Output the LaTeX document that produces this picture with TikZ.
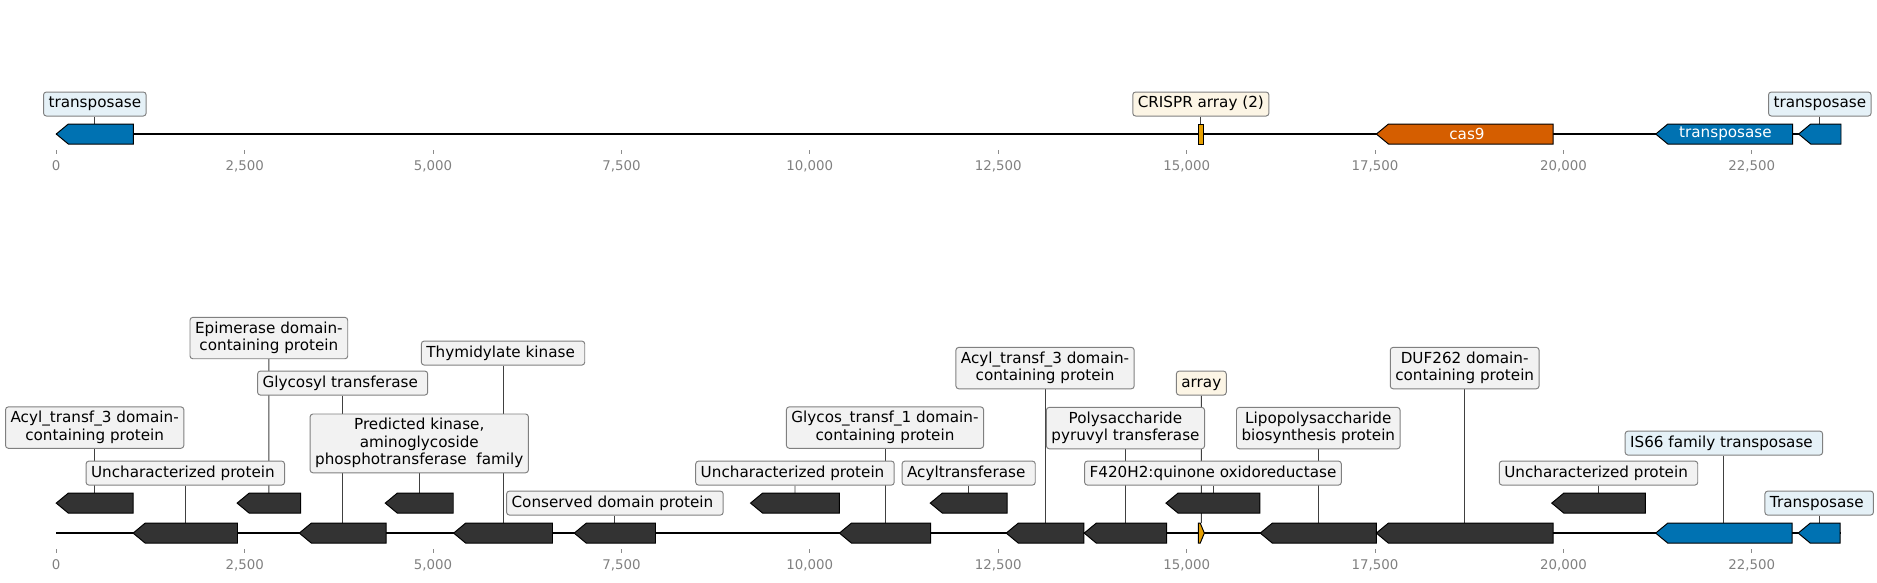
\documentclass[tikz,border=0pt]{standalone}
\usepackage{fontspec}
\setmainfont{DejaVu Sans}
\usetikzlibrary{backgrounds}

\definecolor{featblue}{HTML}{0072B2}
\definecolor{featorange}{HTML}{D55E00}
\definecolor{featgold}{HTML}{E69F00}
\definecolor{featgray}{HTML}{333333}
\colorlet{tagblue}{featblue!10!white}
\colorlet{tagcream}{featgold!10!white}
\definecolor{taggray}{HTML}{F2F2F2}

\newcommand\tagfont{\fontsize{8.65pt}{9.9pt}\selectfont}
\newcommand\tickfont{\fontsize{7.6pt}{9pt}\selectfont}
\newcommand\lstrut{\rule[-0.24em]{0pt}{1em}}
% gene pointing left: [style]{name}{start}{end}{row y}
\newcommand\revgene[5][]{%
  \draw[gene,#1] (#3,#5) -- (#3+0.16,#5-10) -- (#4,#5-10) -- (#4,#5+10) -- (#3+0.16,#5+10) -- cycle;
  \coordinate (#2) at ({(#3+#4)/2},#5-10);}
% gene pointing right
\newcommand\fwdgene[5][]{%
  \draw[gene,#1] (#3,#5-10) -- (#3+0.025,#5-10) -- (#4,#5) -- (#3+0.025,#5+10) -- (#3,#5+10) -- cycle;
  \coordinate (#2) at ({(#3+#4)/2},#5-10);}

\begin{document}
\begin{tikzpicture}[
    x=1.5072cm, y=-0.02cm,
    gene/.style={draw=black, line width=0.55pt, fill=featgray},
    tag/.style={draw=black!50, line width=0.55pt, rounded corners=1.6pt, fill=taggray, inner xsep=2.85pt, inner ysep=2.5pt, align=center, font=\tagfont, execute at begin node=\lstrut, execute at end node=\lstrut},
    intext/.style={text=white, font=\tagfont, inner sep=0pt},
    leader/.style={black!75, line width=0.5pt},
    axisline/.style={line width=1.15pt},
    tickmark/.style={black!45, line width=0.45pt},
    ticklab/.style={text=black!50, font=\tickfont, inner sep=0pt},
]
    \useasboundingbox (-0.7464,0) rectangle (24.161,582);

    % top track
    \draw [axisline] (0,134) -- (23.68,134);
    \revgene[fill=featblue]{ta}{0}{1.024}{134}
    \draw [gene, fill=featgold] (15.152,124) rectangle (15.225,144);
    \coordinate (tb) at (15.1885,124);
    \revgene[fill=featorange]{tc}{17.518}{19.864}{134}
    \revgene[fill=featblue]{td}{21.225}{23.042}{134}
    \revgene[fill=featblue]{te}{23.121}{23.683}{134}

    \node [intext] (ltc) at (18.72,134) {cas9};
    \node [intext] (ltd) at (22.15,134) {transposase};

    \node [tag, fill=tagblue] (lta) at (0.512,104) {transposase};
    \node [tag, fill=tagcream] (ltb) at (15.1885,104) {CRISPR array (2)};
    \node [tag, fill=tagblue] (lte) at (23.402,104) {transposase};

    % bottom track
    \draw [axisline] (0,533) -- (23.68,533);
    \revgene{ga}{0}{1.020}{503}
    \revgene{gb}{1.020}{2.405}{533}
    \revgene{gc}{2.400}{3.243}{503}
    \revgene{gd}{3.225}{4.376}{533}
    \revgene{ge}{4.366}{5.268}{503}
    \revgene{gf}{5.273}{6.585}{533}
    \revgene{gg}{6.874}{7.952}{533}
    \revgene{gh}{9.213}{10.392}{503}
    \revgene{gi}{10.392}{11.603}{533}
    \revgene{gj}{11.598}{12.617}{503}
    \revgene{gk}{12.606}{13.636}{533}
    \revgene{gl}{13.641}{14.735}{533}
    \fwdgene[fill=featgold]{gm}{15.155}{15.235}{533}
    \revgene{gn}{14.726}{15.973}{503}
    \revgene{go}{15.977}{17.517}{533}
    \revgene{gp}{17.517}{19.862}{533}
    \revgene{gq}{19.845}{21.086}{503}
    \revgene[fill=featblue]{gr}{21.224}{23.034}{533}
    \revgene[fill=featblue]{gs}{23.115}{23.672}{533}

    \node [tag] (la) at (0.510,427.5) {Acyl\_transf\_3 domain-\\containing protein};
    \node [tag] (lb) at (1.7125,473) {Uncharacterized protein\ };
    \node [tag] (lc) at (2.8215,338) {Epimerase domain-\\containing protein};
    \node [tag] (ld) at (3.8005,383) {Glycosyl transferase\ };
    \node [tag] (le) at (4.817,443.3) {Predicted kinase,\\aminoglycoside\\phosphotransferase\ \ family};
    \node [tag] (lf) at (5.929,353) {Thymidylate kinase\ };
    \node [tag] (lg) at (7.413,503) {Conserved domain protein\ };
    \node [tag] (lh) at (9.8025,473) {Uncharacterized protein\ };
    \node [tag] (li) at (10.9975,427.5) {Glycos\_transf\_1 domain-\\containing protein};
    \node [tag] (lj) at (12.1075,473) {Acyltransferase\ };
    \node [tag] (lk) at (13.121,368) {Acyl\_transf\_3 domain-\\containing protein};
    \node [tag] (ll) at (14.188,428) {Polysaccharide\\pyruvyl transferase};
    \node [tag, fill=tagcream] (lm) at (15.195,383) {array};
    \node [tag] (ln) at (15.3495,473) {F420H2:quinone oxidoreductase};
    \node [tag] (lo) at (16.747,428) {Lipopolysaccharide\\biosynthesis protein};
    \node [tag] (lp) at (18.6895,368) {DUF262 domain-\\containing protein};
    \node [tag] (lq) at (20.4655,473) {Uncharacterized protein\ };
    \node [tag, fill=tagblue] (lr) at (22.129,443) {IS66 family transposase\ };
    \node [tag, fill=tagblue] (ls) at (23.3935,503) {Transposase\ };

    % leaders behind the boxes
    \begin{scope}[on background layer]
        \draw [leader] (lta) -- (ta);
        \draw [leader] (ltb) -- (tb);
        \draw [leader] (lte) -- (te);
        \foreach \g in {a,b,c,d,e,f,g,h,i,j,k,l,m,n,o,p,q,r,s}
            \draw [leader] (l\g) -- (g\g);
    \end{scope}

    % ticks
    \foreach \t/\lab [count=\i] in {0/0, 2.5/{2,500}, 5/{5,000}, 7.5/{7,500}, 10/{10,000}, 12.5/{12,500}, 15/{15,000}, 17.5/{17,500}, 20/{20,000}, 22.5/{22,500}} {
        \draw [tickmark] (\t,150) -- (\t,154);
        \node [ticklab] (tka\i) at (\t,166) {\lab};
        \draw [tickmark] (\t,549) -- (\t,553);
        \node [ticklab] (tkb\i) at (\t,565) {\lab};
    }

\end{tikzpicture}
\end{document}
